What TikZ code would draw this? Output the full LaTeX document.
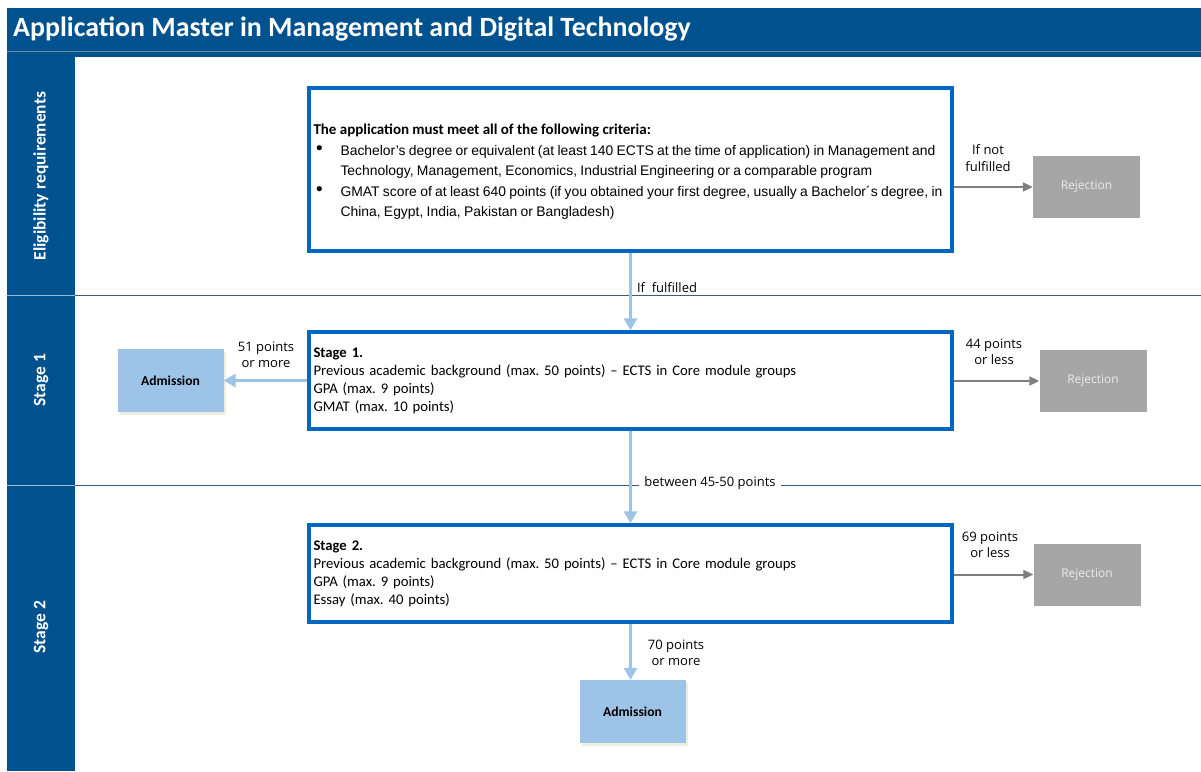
\documentclass[tikz,border=0pt]{standalone}
\usepackage{fontspec}
\setmainfont{Carlito}
\newfontfamily\arialf{Liberation Sans}
\newfontfamily\segoe{Open Sans}
\usetikzlibrary{arrows.meta,shadows}
\definecolor{hdr}{HTML}{00528F}
\definecolor{boxblue}{HTML}{0068C2}
\definecolor{lblue}{HTML}{9DC3E6}
\definecolor{rejgrey}{HTML}{A6A6A6}
\definecolor{arrgrey}{HTML}{7F7F7F}
\definecolor{sepline}{HTML}{3A5A7A}
\definecolor{shadowc}{HTML}{EDEDE0}
\tikzset{
  mainbox/.style={draw=boxblue, line width=3.5pt, fill=white, text width=634pt, inner xsep=4.5pt, align=left},
  rejbox/.style={fill=rejgrey, minimum width=107pt, minimum height=62pt, text=white!92!black, font=\segoe\fontsize{12}{14}\selectfont},
  admbox/.style={fill=lblue, minimum width=106pt, minimum height=63pt, font=\bfseries\fontsize{13.6}{16}\selectfont, drop shadow={shadow xshift=2.5pt, shadow yshift=-2.5pt, fill=shadowc, opacity=1}},
  lanelbl/.style={rotate=90, text=white, font=\bfseries\fontsize{17.5}{20}\selectfont},
  arrlbl/.style={align=center, font=\segoe\fontsize{13}{16.5}\selectfont, inner sep=2pt},
  bluearrow/.style={draw=lblue, line width=3pt, -{Triangle[width=13pt,length=12pt]}},
  greyarrow/.style={draw=arrgrey, line width=2pt, -{Triangle[width=9pt,length=10pt]}},
  lanesep/.style={draw=sepline, line width=0.8pt}
}
\newcommand{\bul}{\makebox[27pt][l]{\hspace{2.5pt}\raisebox{0.3pt}{\fontsize{19}{19}\selectfont\textbullet}}}
\begin{document}
\frenchspacing
\begin{tikzpicture}[x=1pt,y=-1pt]
\useasboundingbox (0,0) rectangle (1201,771);
\fill[white] (0,0) rectangle (1201,771);
% header band
\fill[hdr] (7,8) rectangle (1201,57);
\draw[sepline!70!white, line width=0.8pt] (7,51.5) -- (1201,51.5);
\node[anchor=west, text=white, font=\bfseries\fontsize{27.9}{30}\selectfont, inner sep=0pt] (title) at (13,29) {Application Master in Management and Digital Technology};
% left column
\fill[hdr] (7,57) rectangle (75,771);
\draw[white!60!hdr, line width=0.6pt] (7,295) -- (75,295);
\draw[white!60!hdr, line width=0.6pt] (7,485) -- (75,485);
\node[lanelbl] (laneA) at (41,176) {Eligibility requirements};
\node[lanelbl] (laneB) at (41,380) {Stage 1};
\node[lanelbl] (laneC) at (41,627) {Stage 2};
% lane separators
\draw[lanesep] (75,295) -- (1201,295);
\draw[lanesep] (75,485) -- (1201,485);

% main boxes
\node[mainbox, minimum height=163pt] (crit) at (630.5,169.5) {\noindent\arialf\fontsize{13.9}{20.5}\selectfont\raisebox{-2pt}[\height][\depth]{\begin{tabular}{@{}l@{}l@{}}
\multicolumn{2}{@{}l@{}}{\rmfamily\bfseries\fontsize{15}{20.5}\selectfont The application must meet all of the following criteria:}\\
\bul & Bachelor’s degree or equivalent (at least 140 ECTS at the time of application) in Management and\\
 & Technology, Management, Economics, Industrial Engineering or a comparable program\\
\bul & GMAT score of at least 640 points (if you obtained your first degree, usually a Bachelor´s degree, in\\
 & China, Egypt, India, Pakistan or Bangladesh)
\end{tabular}}};

\node[mainbox, minimum height=97pt, font=\fontsize{14.7}{18}\selectfont] (s1) at (630.5,380.5) {\noindent\textbf{Stage 1.}\\
Previous academic background (max. 50 points) – ECTS in Core module groups\\
GPA (max. 9 points)\\
GMAT (max. 10 points)};

\node[mainbox, minimum height=97pt, font=\fontsize{14.7}{18}\selectfont] (s2) at (630.5,573.5) {\noindent\textbf{Stage 2.}\\
Previous academic background (max. 50 points) – ECTS in Core module groups\\
GPA (max. 9 points)\\
Essay (max. 40 points)};

% outcome boxes
\node[rejbox] (rej1) at (1086.5,187) {Rejection};
\node[rejbox] (rej2) at (1093,381) {Rejection};
\node[rejbox] (rej3) at (1087,574.5) {Rejection};
\node[admbox] (adm1) at (170.5,380.5) {Admission};
\node[admbox] (adm2) at (632.5,711.5) {Admission};

% labels
\node[arrlbl] (lnot) at (988,158) {If not\\fulfilled};
\node[arrlbl, fill=white, inner xsep=4pt] (lful) at (667,288) {If\ \ fulfilled};
\node[arrlbl] (l51) at (266,355) {51 points\\or more};
\node[arrlbl] (l44) at (994,352) {44 points\\or less};
\node[arrlbl, fill=white, inner xsep=5pt] (lbtw) at (710,483) {between 45-50 points};
\node[arrlbl] (l69) at (990,545) {69 points\\or less};
\node[arrlbl] (l70) at (676,653) {70 points\\or more};

% connectors
\draw[greyarrow] (crit.east |- rej1.west) -- (rej1.west);
\draw[greyarrow] (s1.east |- rej2.west) -- (rej2.west);
\draw[greyarrow] (s2.east |- rej3.west) -- (rej3.west);
\draw[bluearrow] (crit.south) -- (s1.north);
\draw[bluearrow] (s1.south) -- (s2.north);
\draw[bluearrow] (s1.west) -- (adm1.east);
\draw[bluearrow] (s2.south) -- (s2.south |- adm2.north);
\end{tikzpicture}
\end{document}
